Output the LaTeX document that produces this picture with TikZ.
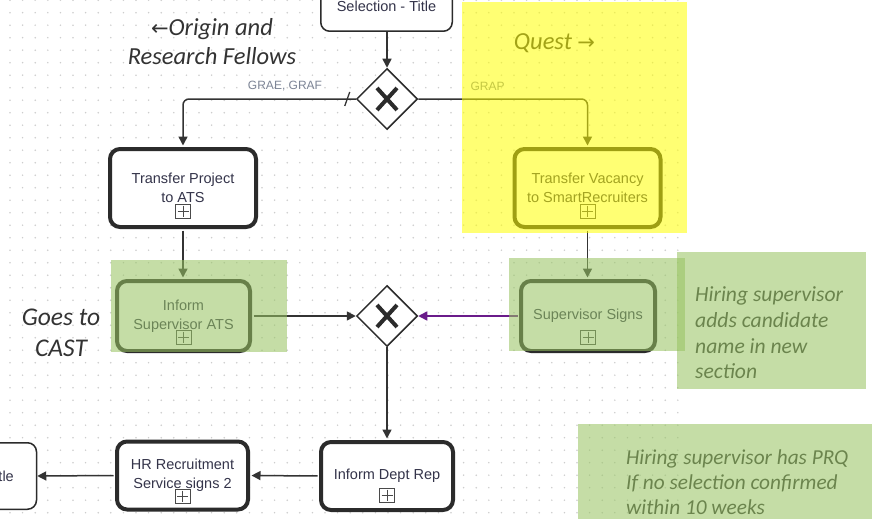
\documentclass[tikz,border=0pt]{standalone}
\usepackage{fontspec}
\setmainfont{Liberation Sans}
\newfontfamily\notefont{Carlito}
\newfontfamily\arrowfont{DejaVu Sans}
\usetikzlibrary{arrows.meta,shapes.geometric}

\definecolor{boxcol}{HTML}{2B2B2B}
\definecolor{linecol}{HTML}{333333}
\definecolor{labcol}{HTML}{34344A}
\definecolor{flowcol}{HTML}{7D8596}
\definecolor{markcol}{HTML}{4A4A4A}
\definecolor{dotcol}{HTML}{CDCDCD}
\definecolor{annocol}{HTML}{333333}
\definecolor{flowpurple}{HTML}{6A1B8A}
\definecolor{hlyellow}{RGB}{255,255,0}
\definecolor{hlgreen}{RGB}{152,196,98}

\tikzset{
  task/.style={draw=boxcol, line width=4pt, rounded corners=10pt, fill=white,
    align=center, inner sep=0pt, text=labcol,
    font=\fontsize{14.5}{19}\selectfont},
  plaintask/.style={draw=boxcol, line width=1.5pt, rounded corners=9pt, fill=white,
    inner sep=0pt},
  boxlabel/.style={text=labcol, inner sep=0pt, font=\fontsize{14.5}{19}\selectfont},
  gate/.style={diamond, draw=boxcol, line width=1.5pt, fill=white,
    minimum size=61pt, inner sep=0pt},
  conn/.style={draw=linecol, line width=1.5pt, -{Triangle[length=9pt,width=9pt]}},
  flowlabel/.style={text=flowcol, inner sep=0pt, font=\fontsize{12}{14}\selectfont},
  anno/.style={text=annocol, inner sep=0pt, font=\notefont\itshape\fontsize{24.5}{29}\selectfont},
  notetext/.style={text=annocol, inner sep=0pt, align=left,
    font=\notefont\itshape\fontsize{21.6}{25.7}\selectfont},
  hlbox/.style={fill=hlgreen, opacity=0.56},
}

% square with a plus: collapsed sub-process marker
\newcommand\submark[1]{%
  \draw[markcol, line width=0.9pt] #1 ++(-7.5,-7) rectangle ++(15,14);
  \draw[markcol, line width=0.9pt] #1 ++(-5.5,0) -- ++(11,0);
  \draw[markcol, line width=0.9pt] #1 ++(0,-5.5) -- ++(0,11);
}
% exclusive gateway cross
\newcommand\gatecross[1]{%
  \draw[boxcol, line width=4pt] #1 ++(-10,-11) -- ++(20,22);
  \draw[boxcol, line width=4pt] #1 ++(10,-11) -- ++(-20,22);
}

\begin{document}
\begin{tikzpicture}[x=1pt, y=-1pt]
\useasboundingbox (0,0) rectangle (872,519);
\clip (0,0) rectangle (872,519);
\fill[white] (0,0) rectangle (872,519);

% dotted canvas grid
\foreach \i in {0,...,53}{
  \foreach \j in {0,...,41}{
    \fill[dotcol] ({10+12.6*\i},{0.2+12.5*\j}) circle (0.85);
  }
}

% tasks
\node[plaintask, minimum width=131.5pt, minimum height=80.5pt] (sel) at (386.5,-9) {};
\node[boxlabel] (selt) at (386.5,6) {Selection - Title};

\node[task, minimum width=146pt, minimum height=78pt] (tp) at (183,188) {Transfer Project\\to ATS};
\node[task, minimum width=146pt, minimum height=78pt] (tv) at (587.5,188) {Transfer Vacancy\\to SmartRecruiters};
\node[task, minimum width=133pt, minimum height=70pt] (isa) at (183.5,316) {Inform\\Supervisor ATS};
\node[task, minimum width=134pt, minimum height=70pt] (ss) at (588,316) {Supervisor Signs};
\node[task, minimum width=132pt, minimum height=68pt] (idr) at (387,476) {Inform Dept Rep};
\node[task, minimum width=131pt, minimum height=68pt] (hr) at (182.5,475.5) {HR Recruitment\\Service signs 2};
\node[plaintask, minimum width=148pt, minimum height=66.5pt] (ttl) at (-37.5,476) {};
\node[boxlabel, anchor=east] (ttlt) at (14,476) {Selection - Title};

\submark{(183,211)}
\submark{(587.5,211)}
\submark{(183.5,337)}
\submark{(588,337)}
\submark{(387,495)}
\submark{(182.5,496)}

% gateways
\node[gate] (gw1) at (387,99) {};
\node[gate] (gw2) at (387,316) {};
\gatecross{(387,99)}
\gatecross{(387,316)}

% sequence flows
\draw[conn] (gw1.north |- sel.south) -- (gw1.north);
\draw[conn, rounded corners=6pt, shorten >=1.5pt] (gw1.west) -| (tp.north);
\draw[conn, rounded corners=6pt, shorten >=1.5pt] (gw1.east) -| (tv.north);
\draw[conn, shorten <=1.5pt, shorten >=1.5pt] (tp.south) -- (tp.south |- isa.north);
\draw[conn, shorten <=1.5pt, shorten >=1.5pt] (tv.south) -- (tv.south |- ss.north);
\draw[conn, shorten <=1.5pt] (isa.east) -- (gw2.west);
\draw[conn, draw=flowpurple, -{Triangle[length=9pt,width=9pt,fill=flowpurple]}, shorten <=1.5pt] (ss.west) -- (gw2.east);
\draw[conn, shorten >=1.5pt] (gw2.south) -- (idr.north);
\draw[conn, shorten <=1.5pt, shorten >=1.5pt] (idr.west) -- (hr.east);
\draw[conn, shorten <=1.5pt] (hr.west) -- (ttl.east);

% default-flow slash
\draw[linecol, line width=1.3pt] ([shift={(-11,7)}]gw1.west) -- ([shift={(-6,-7)}]gw1.west);

% flow labels
\node[flowlabel] (lgrae) at (285,86) {GRAE, GRAF};
\node[flowlabel] (lgrap) at (487.5,86) {GRAP};

% annotations
\node[anno, align=center] (origin) at (212,41.5) {{\arrowfont\fontsize{21}{21}\selectfont ←}Origin and\\Research Fellows};
\node[anno, align=center, font=\notefont\itshape\fontsize{25.5}{31}\selectfont] (cast) at (61,332.5) {Goes to\\CAST};
\node[anno] (quest) at (554.5,43) {Quest {\arrowfont\fontsize{21}{21}\selectfont →}};

\node[notetext, anchor=west] (note1) at (695,333) {Hiring supervisor\\adds candidate\\name in new\\section};
\node[notetext, anchor=west, font=\notefont\itshape\fontsize{21.3}{25}\selectfont] (note2) at (626,482.5) {Hiring supervisor has PRQ\\If no selection confirmed\\within 10 weeks};

% highlight overlays
\fill[hlyellow, opacity=0.55] (462,2) rectangle (687,233);
\fill[hlbox] (111,260) rectangle (287,352);
\fill[hlbox] (509,258) rectangle (685,351);
\fill[hlbox] (677,252) rectangle (866,389);
\fill[hlbox] (578,424) rectangle (872,519);
\end{tikzpicture}
\end{document}
